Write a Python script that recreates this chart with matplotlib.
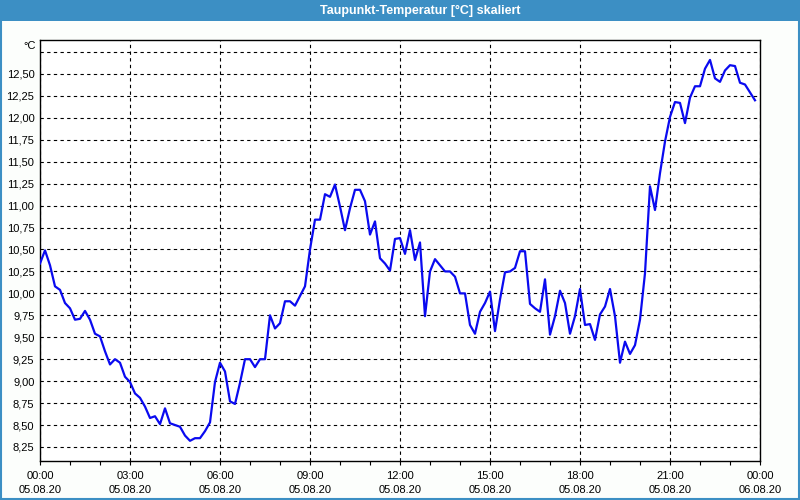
# Taupunkt-Temperatur chart, 10-minute samples over 05.08.20
import numpy as np
import pandas as pd
import matplotlib
matplotlib.use("Agg")
import matplotlib.pyplot as plt
import matplotlib.dates as mdates
from matplotlib.patches import Rectangle

# Title and labels
title = "Taupunkt-Temperatur [°C] skaliert"
unit_label = "°C"

# Sample times (10-minute steps starting at midnight)
start_time = "2020-08-05 00:00"
sample_count = 144

# Dew point values, one per 10 minutes
dew_point = [
    10.34, 10.49, 10.32, 10.08, 10.04, 9.89,
    9.83, 9.70, 9.71, 9.80, 9.70, 9.54,
    9.51, 9.34, 9.19, 9.25, 9.21, 9.05,
    8.99, 8.86, 8.81, 8.71, 8.58, 8.60,
    8.51, 8.69, 8.52, 8.50, 8.48, 8.38,
    8.32, 8.35, 8.35, 8.43, 8.53, 8.99,
    9.21, 9.11, 8.77, 8.74, 8.98, 9.25,
    9.25, 9.16, 9.25, 9.25, 9.75, 9.60,
    9.66, 9.91, 9.91, 9.86, 9.97, 10.08,
    10.50, 10.84, 10.84, 11.13, 11.10, 11.24,
    10.99, 10.72, 10.97, 11.18, 11.18, 11.05,
    10.67, 10.82, 10.40, 10.34, 10.26, 10.62,
    10.63, 10.45, 10.72, 10.38, 10.58, 9.74,
    10.25, 10.39, 10.32, 10.25, 10.25, 10.19,
    10.00, 10.00, 9.64, 9.54, 9.79, 9.89,
    10.02, 9.57, 9.93, 10.24, 10.25, 10.29,
    10.48, 10.48, 9.88, 9.83, 9.79, 10.16,
    9.53, 9.74, 10.03, 9.89, 9.54, 9.74,
    10.05, 9.64, 9.65, 9.47, 9.76, 9.85,
    10.05, 9.74, 9.21, 9.45, 9.31, 9.41,
    9.70, 10.23, 11.22, 10.95, 11.37, 11.73,
    12.01, 12.18, 12.17, 11.94, 12.23, 12.36,
    12.36, 12.56, 12.66, 12.45, 12.41, 12.54,
    12.60, 12.59, 12.40, 12.38, 12.29, 12.20,
]

# Y grid values and their labels
y_ticks = [8.25, 8.50, 8.75, 9.00, 9.25, 9.50, 9.75, 10.00, 10.25, 10.50,
           10.75, 11.00, 11.25, 11.50, 11.75, 12.00, 12.25, 12.50, 12.75]
y_labels = ["8,25", "8,50", "8,75", "9,00", "9,25", "9,50", "9,75", "10,00",
            "10,25", "10,50", "10,75", "11,00", "11,25", "11,50", "11,75",
            "12,00", "12,25", "12,50", ""]

times = pd.date_range(start_time, periods=sample_count, freq="10min")

plt.rcParams["font.family"] = ["Liberation Sans", "DejaVu Sans"]

fig = plt.figure(figsize=(8, 5), dpi=100)
fig.patch.set_facecolor("#fcfefc")

# Window frame and title bar
frame_color = "#3c8fc4"
fig.patches.append(Rectangle((0, 0.958), 1, 0.042, transform=fig.transFigure,
                             facecolor=frame_color, edgecolor="none", zorder=0))
fig.patches.append(Rectangle((0.0012, 0.003), 0.9976, 0.96, transform=fig.transFigure,
                             facecolor="none", edgecolor=frame_color, linewidth=1.5, zorder=0))
fig.text(0.525, 0.979, title, color="white", fontsize=9, fontweight="bold",
         ha="center", va="center")

ax = fig.add_axes([0.05, 0.078, 0.90, 0.842])
ax.set_facecolor("white")

ax.plot(times, dew_point, color="#0a0af0", linewidth=1.6, zorder=3)

# Axis limits
t0 = pd.Timestamp(start_time)
ax.set_xlim(t0, t0 + pd.Timedelta(hours=24))
ax.set_ylim(8.09, 12.887)

# Ticks
ax.xaxis.set_major_locator(mdates.HourLocator(byhour=range(0, 24, 3)))
ax.xaxis.set_minor_locator(mdates.HourLocator())
ax.xaxis.set_major_formatter(mdates.DateFormatter("%H:%M\n%d.%m.%y"))
ax.set_yticks(y_ticks)
ax.set_yticklabels(y_labels)
ax.tick_params(axis="x", which="both", direction="out", length=3, width=0.8,
               labelsize=8, pad=4, colors="black")
ax.tick_params(axis="y", length=0, pad=4, labelsize=8, colors="black")
for lab in ax.get_xticklabels():
    lab.set_linespacing(1.5)

# Dashed grid
ax.grid(True, which="major", color="black", linestyle=(0, (3, 3)), linewidth=0.8)

for spine in ax.spines.values():
    spine.set_color("black")
    spine.set_linewidth(1.0)

# Unit label at the top of the y axis
ax.text(-0.006, 0.986, unit_label, transform=ax.transAxes, ha="right", va="center",
        fontsize=8, color="black")

fig.savefig("out.png", dpi=100, facecolor=fig.get_facecolor())
